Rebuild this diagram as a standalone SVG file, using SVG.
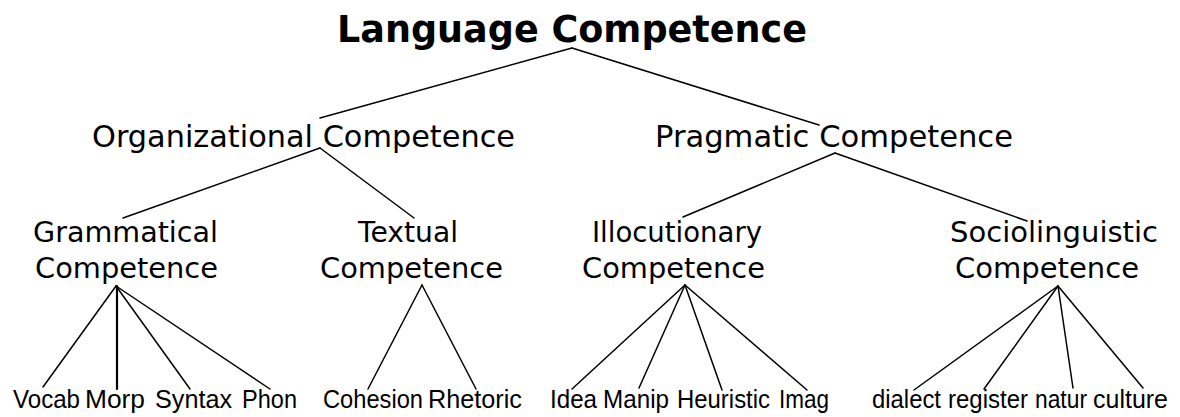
<svg xmlns="http://www.w3.org/2000/svg" width="1180" height="417" viewBox="0 0 1180 417">
<style>
  .title { font-family: "DejaVu Sans", "Liberation Sans", sans-serif; font-weight: bold; font-size: 37px; fill: #000; }
  .l1 { font-family: "DejaVu Sans", "Liberation Sans", sans-serif; font-size: 31px; fill: #000; }
  .l2 { font-family: "DejaVu Sans", "Liberation Sans", sans-serif; font-size: 28.5px; fill: #000; }
  .leaf { font-family: "Liberation Sans", Arial, sans-serif; font-size: 26.5px; fill: #000; }
  .edge { stroke: #000; stroke-width: 1.5; fill: none; stroke-linecap: round; }
</style>
<rect width="1180" height="417" fill="#fff"/>

<g id="connectors">
  <line class="edge" x1="572" y1="48" x2="320" y2="118"/>
  <line class="edge" x1="572" y1="48" x2="819" y2="125"/>
  <line class="edge" x1="320" y1="148" x2="123" y2="218"/>
  <line class="edge" x1="320" y1="148" x2="414" y2="218"/>
  <line class="edge" x1="835" y1="153" x2="683" y2="217"/>
  <line class="edge" x1="835" y1="153" x2="1027" y2="221"/>
  <line class="edge" x1="116" y1="286" x2="43" y2="387"/>
  <line class="edge" x1="117" y1="286" x2="117" y2="389" style="stroke-width:2.2"/>
  <line class="edge" x1="116" y1="286" x2="190" y2="389"/>
  <line class="edge" x1="116" y1="286" x2="270" y2="389"/>
  <line class="edge" x1="422" y1="285" x2="368" y2="389"/>
  <line class="edge" x1="422" y1="285" x2="476" y2="389"/>
  <line class="edge" x1="685" y1="285" x2="572" y2="389"/>
  <line class="edge" x1="685" y1="285" x2="639" y2="388"/>
  <line class="edge" x1="685" y1="285" x2="722" y2="390"/>
  <line class="edge" x1="685" y1="285" x2="807" y2="390"/>
  <line class="edge" x1="1058" y1="286" x2="914" y2="390"/>
  <line class="edge" x1="1058" y1="286" x2="984" y2="389"/>
  <line class="edge" x1="1058" y1="286" x2="1073" y2="388"/>
  <line class="edge" x1="1058" y1="286" x2="1143" y2="388"/>
</g>

<g id="language-competence">
  <text class="title" x="337" y="42" textLength="470" lengthAdjust="spacingAndGlyphs">Language Competence</text>
</g>
<g id="organizational-competence">
  <text class="l1" x="92" y="147" textLength="423" lengthAdjust="spacingAndGlyphs">Organizational Competence</text>
</g>
<g id="pragmatic-competence">
  <text class="l1" x="655" y="147" textLength="358" lengthAdjust="spacingAndGlyphs">Pragmatic Competence</text>
</g>
<g id="grammatical-competence">
  <text class="l2" x="33" y="242" textLength="185" lengthAdjust="spacingAndGlyphs">Grammatical</text>
  <text class="l2" x="35" y="278" textLength="183" lengthAdjust="spacingAndGlyphs">Competence</text>
</g>
<g id="textual-competence">
  <text class="l2" x="358" y="242" textLength="100" lengthAdjust="spacingAndGlyphs">Textual</text>
  <text class="l2" x="320" y="278" textLength="183" lengthAdjust="spacingAndGlyphs">Competence</text>
</g>
<g id="illocutionary-competence">
  <text class="l2" x="592" y="242" textLength="170" lengthAdjust="spacingAndGlyphs">Illocutionary</text>
  <text class="l2" x="582" y="278" textLength="183" lengthAdjust="spacingAndGlyphs">Competence</text>
</g>
<g id="sociolinguistic-competence">
  <text class="l2" x="950" y="242" textLength="208" lengthAdjust="spacingAndGlyphs">Sociolinguistic</text>
  <text class="l2" x="955" y="278" textLength="184" lengthAdjust="spacingAndGlyphs">Competence</text>
</g>

<g id="vocab"><text class="leaf" x="13" y="408" textLength="67" lengthAdjust="spacingAndGlyphs">Vocab</text></g>
<g id="morp"><text class="leaf" x="85" y="408" textLength="60" lengthAdjust="spacingAndGlyphs">Morp</text></g>
<g id="syntax"><text class="leaf" x="155" y="408" textLength="77" lengthAdjust="spacingAndGlyphs">Syntax</text></g>
<g id="phon"><text class="leaf" x="242" y="408" textLength="55" lengthAdjust="spacingAndGlyphs">Phon</text></g>
<g id="cohesion"><text class="leaf" x="323" y="408" textLength="100" lengthAdjust="spacingAndGlyphs">Cohesion</text></g>
<g id="rhetoric"><text class="leaf" x="428" y="408" textLength="94" lengthAdjust="spacingAndGlyphs">Rhetoric</text></g>
<g id="idea"><text class="leaf" x="550" y="408" textLength="47" lengthAdjust="spacingAndGlyphs">Idea</text></g>
<g id="manip"><text class="leaf" x="603" y="408" textLength="66" lengthAdjust="spacingAndGlyphs">Manip</text></g>
<g id="heuristic"><text class="leaf" x="677" y="408" textLength="93" lengthAdjust="spacingAndGlyphs">Heuristic</text></g>
<g id="imag"><text class="leaf" x="779" y="408" textLength="50" lengthAdjust="spacingAndGlyphs">Imag</text></g>
<g id="dialect"><text class="leaf" x="872" y="408" textLength="69" lengthAdjust="spacingAndGlyphs">dialect</text></g>
<g id="register"><text class="leaf" x="948" y="408" textLength="80" lengthAdjust="spacingAndGlyphs">register</text></g>
<g id="natur"><text class="leaf" x="1035" y="408" textLength="52" lengthAdjust="spacingAndGlyphs">natur</text></g>
<g id="culture"><text class="leaf" x="1093" y="408" textLength="75" lengthAdjust="spacingAndGlyphs">culture</text></g>
</svg>
